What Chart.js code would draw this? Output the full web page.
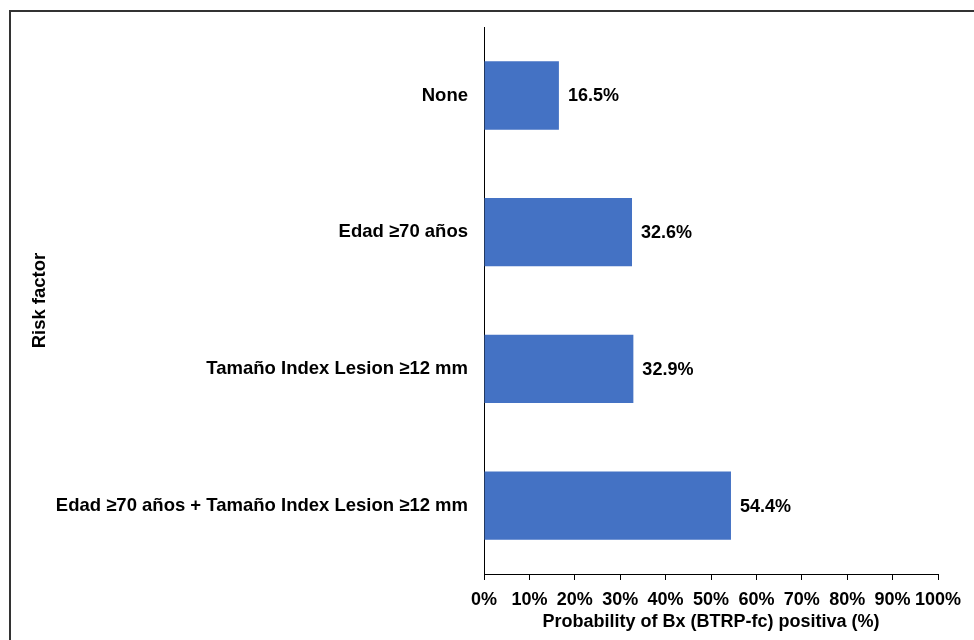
<!DOCTYPE html>
<html>
<head>
<meta charset="utf-8">
<script src="https://cdn.jsdelivr.net/npm/chart.js@4.4.1/dist/chart.umd.min.js"></script>
<style>
  html, body { margin: 0; padding: 0; background: #fff; }
  #wrap { position: relative; width: 974px; height: 640px; }
</style>
</head>
<body>
<div id="wrap"><canvas id="chart" width="974" height="640"></canvas></div>
<script>
// Risk factor categories and probability of a positive biopsy (%)
const categories = [
  'None',
  'Edad ≥70 años',
  'Tamaño Index Lesion ≥12 mm',
  'Edad ≥70 años + Tamaño Index Lesion ≥12 mm'
];
const probabilities = [16.5, 32.6, 32.9, 54.4];
const xTickValues = [0, 10, 20, 30, 40, 50, 60, 70, 80, 90, 100];

const FONT = '"Liberation Sans", Arial, Helvetica, sans-serif';

// Frame along the top and left edges of the figure
const framePlugin = {
  id: 'frame',
  beforeDraw(chart) {
    const ctx = chart.ctx;
    ctx.save();
    ctx.strokeStyle = '#333';
    ctx.lineWidth = 2;
    ctx.beginPath();
    ctx.moveTo(10, chart.height);
    ctx.lineTo(10, 11);
    ctx.lineTo(chart.width, 11);
    ctx.stroke();
    ctx.restore();
  }
};

// Value labels to the right of each bar
const valueLabelPlugin = {
  id: 'valueLabels',
  afterDatasetsDraw(chart) {
    const ctx = chart.ctx;
    const meta = chart.getDatasetMeta(0);
    ctx.save();
    ctx.font = 'bold 18px ' + FONT;
    ctx.fillStyle = '#000';
    ctx.textAlign = 'left';
    ctx.textBaseline = 'middle';
    meta.data.forEach((bar, i) => {
      ctx.fillText(probabilities[i].toFixed(1) + '%', bar.x + 9, bar.y + 1);
    });
    ctx.restore();
  }
};

new Chart(document.getElementById('chart'), {
  type: 'bar',
  data: {
    labels: categories,
    datasets: [{
      data: probabilities,
      backgroundColor: '#4472C4',
      borderWidth: 0,
      categoryPercentage: 1.0,
      barPercentage: 0.5
    }]
  },
  options: {
    indexAxis: 'y',
    responsive: false,
    animation: false,
    layout: { padding: { left: 0, right: 36, top: 26, bottom: 0 } },
    plugins: {
      legend: { display: false },
      tooltip: { enabled: false }
    },
    scales: {
      x: {
        min: 0,
        max: 100,
        afterBuildTicks(scale) {
          scale.ticks = xTickValues.map(v => ({ value: v }));
        },
        afterFit(scale) { scale.height = 66; },
        grid: {
          display: true,
          drawOnChartArea: false,
          drawTicks: true,
          tickLength: 6,
          color: '#000',
          lineWidth: 1
        },
        border: { display: true, color: '#000', width: 1 },
        ticks: {
          padding: 9,
          color: '#000',
          font: { family: FONT, size: 18, weight: 'bold' },
          maxRotation: 0,
          autoSkip: false,
          callback: v => v + '%'
        },
        title: {
          display: true,
          text: 'Probability of Bx (BTRP-fc) positiva (%)',
          color: '#000',
          font: { family: FONT, size: 18, weight: 'bold' },
          padding: { top: 0, bottom: 7 }
        }
      },
      y: {
        afterFit(scale) { scale.width = 484; },
        grid: { display: false, drawTicks: false },
        border: { display: true, color: '#000', width: 1 },
        ticks: {
          padding: 16,
          color: '#000',
          font: { family: FONT, size: 18.5, weight: 'bold' }
        },
        title: {
          display: true,
          text: 'Risk factor',
          color: '#000',
          font: { family: FONT, size: 18.5, weight: 'bold' },
          padding: { top: 29, bottom: 0 }
        }
      }
    }
  },
  plugins: [framePlugin, valueLabelPlugin]
});
</script>
</body>
</html>
